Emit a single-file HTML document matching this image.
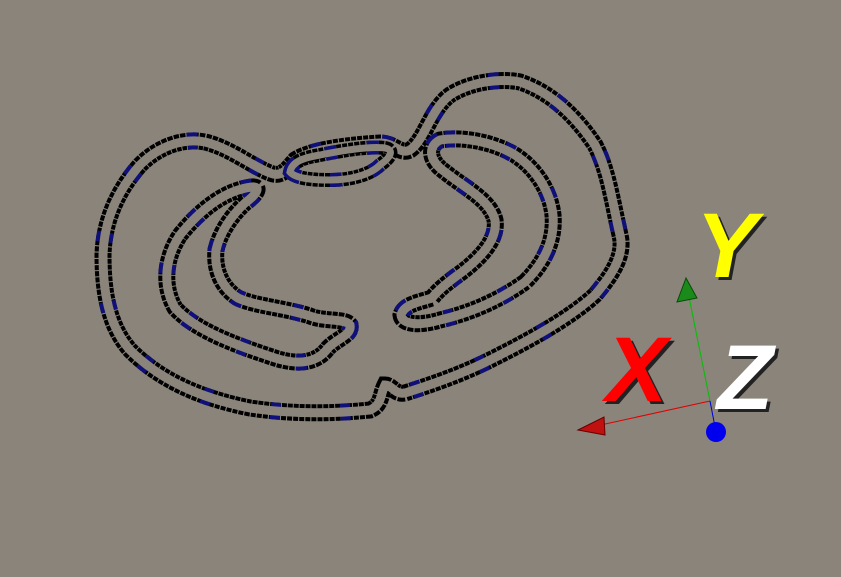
<!DOCTYPE html>
<html><head><meta charset="utf-8"><style>
html,body{margin:0;padding:0;background:#8a847a;}
svg{display:block}
text{font-family:"Liberation Sans",sans-serif;font-weight:bold;font-style:italic}
</style></head><body>
<svg width="841" height="577" viewBox="0 0 841 577">
<rect width="841" height="577" fill="#8a847a"/>
<defs>
<path id="outer" d="M385,385 C380,395 382,405 370,410 C330,414 290,414 250,408 C200,398 160,380 130,350 C108,325 103,290 103,255 C104,220 118,190 140,165 C160,145 185,138 205,142 C230,148 250,165 270,173 C282,178 288,168 295,160 C310,150 345,145 380,143 C395,143 400,155 410,150 C425,140 430,110 450,95 C470,82 500,78 520,82 C550,92 575,115 595,145 C608,170 612,200 620,235 C625,255 612,275 595,295 C570,318 530,340 490,360 C460,375 430,385 405,393 C395,395 392,385 385,385 Z"/>
<path id="left" d="M252,187 C225,190 200,210 180,235 C165,258 162,285 175,308 C195,330 235,345 275,358 C300,366 318,362 328,348 C338,338 352,335 350,325 C345,318 325,322 310,316 C285,308 255,306 238,298 C222,288 214,270 216,250 C220,232 232,215 245,203 C256,195 262,186 252,187 Z"/>
<path id="right" d="M440,140 C428,146 428,160 445,172 C465,188 490,200 495,220 C498,240 480,258 462,272 C448,282 438,290 432,298 C420,302 404,304 401,315 C402,325 420,326 440,320 C470,313 500,300 525,282 C545,262 555,240 553,215 C550,190 535,168 515,155 C495,143 465,136 440,140 Z"/>
<path id="top" d="M290,172 C292,162 302,158 320,155 C345,150 370,146 385,148 C395,150 390,158 380,165 C370,175 350,180 330,180 C310,180 295,178 290,172 Z"/>
</defs>
<g>
<g>
<use href="#outer" fill="none" stroke="#000" stroke-width="17" stroke-dasharray="5 1"/>
<use href="#outer" fill="none" stroke="#10107a" stroke-width="17" stroke-dasharray="10 60" stroke-dashoffset="20"/>
<use href="#outer" fill="none" stroke="#8a847a" stroke-width="9"/>
</g>
<g>
<use href="#left" fill="none" stroke="#000" stroke-width="17" stroke-dasharray="5 1"/>
<use href="#left" fill="none" stroke="#10107a" stroke-width="17" stroke-dasharray="10 50"/>
<use href="#left" fill="none" stroke="#8a847a" stroke-width="9"/>
</g>
<g>
<use href="#right" fill="none" stroke="#000" stroke-width="17" stroke-dasharray="5 1"/>
<use href="#right" fill="none" stroke="#10107a" stroke-width="17" stroke-dasharray="10 50"/>
<use href="#right" fill="none" stroke="#8a847a" stroke-width="9"/>
</g>
<g>
<use href="#top" fill="none" stroke="#000" stroke-width="14" stroke-dasharray="5 1"/>
<use href="#top" fill="none" stroke="#10107a" stroke-width="14" stroke-dasharray="12 30"/>
<use href="#top" fill="none" stroke="#8a847a" stroke-width="7"/>
</g>
</g>
<g>
<line x1="710" y1="401" x2="688" y2="292" stroke="#00c000" stroke-width="1"/>
<polygon points="686,278 677,302 697,298" fill="#1a8a1a" stroke="#0a4a0a"/>
<line x1="710" y1="401" x2="596" y2="426" stroke="#e00000" stroke-width="1"/>
<polygon points="578,430 604,417 605,435" fill="#c01010" stroke="#600"/>
<line x1="710" y1="401" x2="716" y2="432" stroke="#0000e0" stroke-width="1"/>
<circle cx="716" cy="432" r="10" fill="#0000ee"/>
<text x="699" y="280" font-size="92" fill="#222">Y</text>
<text x="696" y="277" font-size="92" fill="#ffff00">Y</text>
<text x="609" y="404" font-size="92" fill="#222">X</text>
<text x="606" y="401" font-size="92" fill="#ff0000">X</text>
<text x="720" y="412" font-size="92" fill="#222">Z</text>
<text x="717" y="409" font-size="92" fill="#ffffff">Z</text>
</g>
</svg>
</body></html>
